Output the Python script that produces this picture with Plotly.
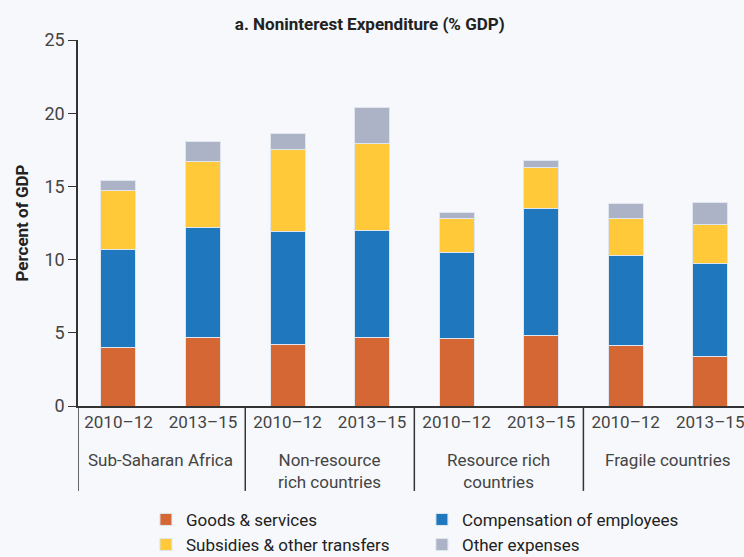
import plotly.graph_objects as go

groups = ["Sub-Saharan Africa", "Non-resource<br>rich countries", "Resource rich<br>countries", "Fragile countries"]
periods = ["2010–12", "2013–15"]

goods = [4.0, 4.7, 4.2, 4.7, 4.6, 4.8, 4.1, 3.35]
compensation = [6.7, 7.5, 7.7, 7.3, 5.9, 8.7, 6.2, 6.4]
subsidies = [4.0, 4.5, 5.6, 5.9, 2.3, 2.8, 2.5, 2.65]
other = [0.7, 1.4, 1.1, 2.5, 0.4, 0.5, 1.0, 1.5]

series = [
    ("Goods & services", goods, "#d56734"),
    ("Compensation of employees", compensation, "#1f77bd"),
    ("Subsidies & other transfers", subsidies, "#ffc93a"),
    ("Other expenses", other, "#adb3c6"),
]

n_per = len(periods)
xpos = list(range(len(groups) * n_per))
xlabels = [p for _ in groups for p in periods]

FONT = "Roboto, sans-serif"
BG = "#f6f8fb"
AX = "#333333"
XMIN, XMAX = -0.479, 7.4

fig = go.Figure()
for name, vals, col in series:
    fig.add_trace(go.Bar(
        x=xpos, y=vals, name=name,
        marker=dict(color=col, line=dict(color="#dfe6ee", width=1)),
        width=0.414,
    ))

# group labels and dividers
for gi, g in enumerate(groups):
    center = gi * n_per + (n_per - 1) / 2
    fig.add_annotation(x=center, xref="x", y=-0.114, yref="paper", yanchor="top",
                       text=g, showarrow=False, font=dict(size=17, color="#444444"))
    left = XMIN if gi == 0 else gi * n_per - 0.5
    fig.add_shape(type="line", xref="x", yref="paper", x0=left, x1=left, y0=0, y1=-0.232,
                  line=dict(color=AX, width=1.5))

fig.update_layout(
    barmode="stack",
    width=744, height=557,
    margin=dict(l=78, r=0, t=40, b=151, autoexpand=False),
    paper_bgcolor=BG, plot_bgcolor=BG,
    font=dict(family=FONT, size=17, color="#333333"),
    title=dict(text="<b>a. Noninterest Expenditure (% GDP)</b>", x=0.497, xanchor="center",
               yref="container", y=0.956, yanchor="middle", font=dict(size=17, color="#222222")),
    showlegend=True,
    legend=dict(orientation="h", x=0.102, xanchor="left", y=-0.262, yanchor="top",
                entrywidth=231, traceorder="normal", font=dict(size=17, color="#222222"),
                bgcolor="rgba(0,0,0,0)", itemclick=False),
)
fig.update_yaxes(range=[0, 25], tickvals=[0, 5, 10, 15, 20, 25], showgrid=False, zeroline=False,
                 showline=True, linecolor=AX, linewidth=1.5, ticks="outside", ticklen=8,
                 tickcolor=AX, automargin=False,
                 title=dict(text="<b>Percent of GDP</b>", font=dict(size=17, color="#222222"), standoff=11),
                 tickfont=dict(size=18, color="#444444"))
fig.update_xaxes(range=[XMIN, XMAX], tickvals=xpos, ticktext=xlabels, showgrid=False, showline=True,
                 linecolor=AX, linewidth=1.5, ticks="", automargin=False, ticklabeloverflow="allow",
                 tickfont=dict(size=17, color="#444444"))

fig.write_html("out.html", config={"displayModeBar": False},
               post_script="document.body.style.margin='0';")
